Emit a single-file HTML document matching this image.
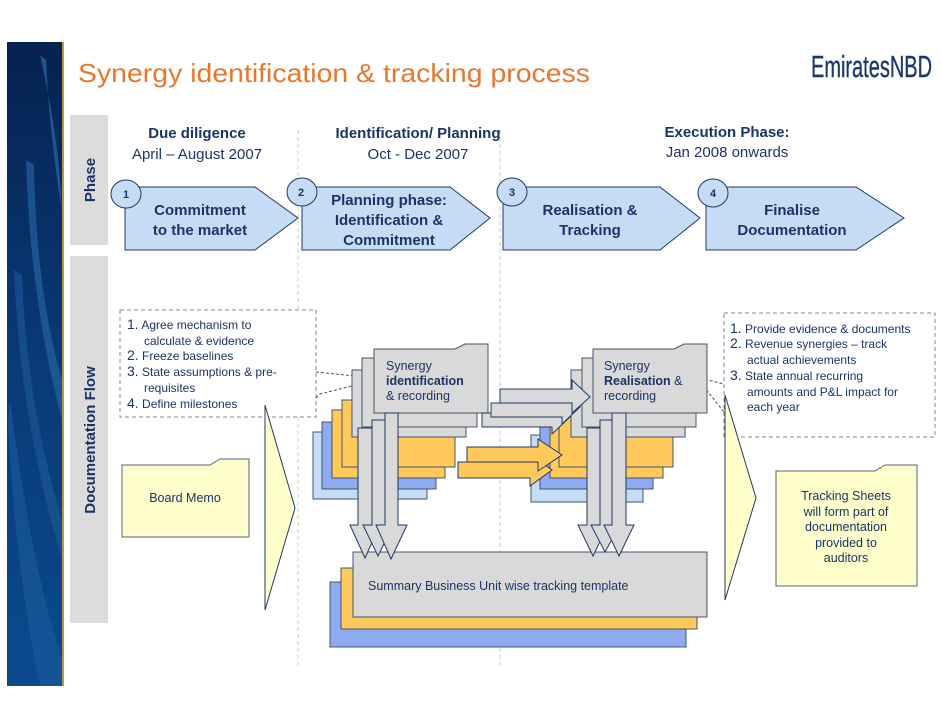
<!DOCTYPE html>
<html><head><meta charset="utf-8"><style>
html,body{margin:0;padding:0;background:#fff;}
svg{display:block;font-family:"Liberation Sans",Arial,sans-serif;}
</style></head><body>
<svg width="942" height="728" viewBox="0 0 942 728" xmlns="http://www.w3.org/2000/svg">
<defs>
<linearGradient id="sb" x1="0" y1="0" x2="0" y2="1">
<stop offset="0" stop-color="#06224f"/><stop offset="0.5" stop-color="#0a3a78"/><stop offset="1" stop-color="#0b4a8e"/>
</linearGradient>
</defs>
<!-- sidebar -->
<rect x="7" y="42" width="55" height="644" fill="url(#sb)"/>
<path d="M40 55 Q62 150 62 230 L62 210 Q50 140 46 60Z" fill="#2a69aa" opacity="0.7"/>
<path d="M26 160 Q30 300 62 420 L62 380 Q36 290 34 165Z" fill="#2a69aa" opacity="0.6"/>
<path d="M14 270 Q20 420 62 560 L62 520 Q26 400 22 275Z" fill="#1d5a9a" opacity="0.6"/>
<path d="M10 400 Q30 560 62 660 L62 686 L40 686 Q14 560 8 420Z" fill="#1e5fa0" opacity="0.5"/>
<rect x="62" y="42" width="2" height="644" fill="#b89a3a"/>

<!-- title -->
<text x="78" y="82" font-size="26" fill="#e8772e" textLength="512" lengthAdjust="spacingAndGlyphs">Synergy identification &amp; tracking process</text>
<text x="811" y="77" font-size="31" fill="#1b3a6b" textLength="121" lengthAdjust="spacingAndGlyphs" stroke="#1b3a6b" stroke-width="0.4">EmiratesNBD</text>

<!-- grey label columns -->
<rect x="70" y="115" width="38" height="130" fill="#dcdcdc"/>
<rect x="70" y="256" width="38" height="367" fill="#dcdcdc"/>
<text transform="translate(95,180) rotate(-90)" text-anchor="middle" font-size="15" font-weight="bold" fill="#1a3466">Phase</text>
<text transform="translate(95,440) rotate(-90)" text-anchor="middle" font-size="15" font-weight="bold" fill="#1a3466">Documentation Flow</text>

<!-- dashed verticals -->
<line x1="298" y1="130" x2="298" y2="665" stroke="#c8c8c8" stroke-dasharray="4,3"/>
<line x1="500" y1="130" x2="500" y2="665" stroke="#c8c8c8" stroke-dasharray="4,3"/>

<!-- headers -->
<g fill="#1a3466" font-size="15" text-anchor="middle">
<text x="197" y="138" font-weight="bold">Due diligence</text>
<text x="197" y="159">April – August 2007</text>
<text x="418" y="138" font-weight="bold">Identification/ Planning</text>
<text x="418" y="159">Oct - Dec 2007</text>
<text x="727" y="137" font-weight="bold">Execution Phase:</text>
<text x="727" y="157">Jan 2008 onwards</text>
</g>

<!-- chevrons -->
<g fill="#c6dcf5" stroke="#1f3864" stroke-width="1">
<path d="M125 187 H255 L298 218 L255 250 H125Z"/>
<path d="M302 187 H450 L490 218 L450 250 H302Z"/>
<path d="M503 187 H660 L700 218 L660 250 H503Z"/>
<path d="M706 187 H856 L904 218 L856 250 H706Z"/>
<ellipse cx="126" cy="194" rx="15" ry="14"/>
<ellipse cx="302" cy="192" rx="15" ry="14"/>
<ellipse cx="512" cy="192" rx="15" ry="14"/>
<ellipse cx="713" cy="193" rx="15" ry="14"/>
</g>
<g fill="#1a3466" font-size="11" font-weight="bold" text-anchor="middle">
<text x="126" y="198">1</text><text x="301" y="196">2</text><text x="512" y="196">3</text><text x="713" y="197">4</text>
</g>
<g fill="#1a3466" font-size="15" font-weight="bold" text-anchor="middle">
<text x="200" y="215">Commitment</text><text x="200" y="235">to the market</text>
<text x="389" y="205">Planning phase:</text><text x="389" y="225">Identification &amp;</text><text x="389" y="245">Commitment</text>
<text x="590" y="215">Realisation &amp;</text><text x="590" y="235">Tracking</text>
<text x="792" y="215">Finalise</text><text x="792" y="235">Documentation</text>
</g>

<!-- left dashed box -->
<rect x="120" y="310" width="196" height="107" fill="#fff" stroke="#7a8898" stroke-dasharray="4,3"/>
<g fill="#1a3466" font-size="12">
<text x="127" y="329"><tspan font-size="14">1.</tspan> Agree mechanism to</text>
<text x="144" y="345">calculate &amp; evidence</text>
<text x="127" y="360"><tspan font-size="14">2.</tspan> Freeze baselines</text>
<text x="127" y="376"><tspan font-size="14">3.</tspan> State assumptions &amp; pre-</text>
<text x="144" y="392">requisites</text>
<text x="127" y="408"><tspan font-size="14">4.</tspan> Define milestones</text>
</g>
<path d="M316 372 L375 378" stroke="#44546a" stroke-dasharray="3,2" fill="none"/>
<path d="M316 398 L320 394 L375 380" stroke="#44546a" stroke-dasharray="3,2" fill="none"/>

<!-- right dashed box -->
<rect x="724" y="313" width="211" height="124" fill="#fff" stroke="#7a8898" stroke-dasharray="4,3"/>
<g fill="#1a3466" font-size="12">
<text x="730" y="333"><tspan font-size="14">1.</tspan> Provide evidence &amp; documents</text>
<text x="730" y="348"><tspan font-size="14">2.</tspan> Revenue synergies – track</text>
<text x="747" y="364">actual achievements</text>
<text x="730" y="380"><tspan font-size="14">3.</tspan> State annual recurring</text>
<text x="747" y="396">amounts and P&amp;L impact for</text>
<text x="747" y="411">each year</text>
</g>
<path d="M700 378 L724 384" stroke="#44546a" stroke-dasharray="3,2"/>
<path d="M700 382 L724 412" stroke="#44546a" stroke-dasharray="3,2"/>

<!-- big triangles -->
<path d="M265 405 L295 508 L265 610Z" fill="#ffffcc" stroke="#1f3864"/>
<path d="M725 395 L756 498 L725 600Z" fill="#ffffcc" stroke="#1f3864"/>

<!-- board memo / tracking sheets -->
<path d="M122 465 H210 L220 459 H249 V537 H122Z" fill="#ffffcc" stroke="#5a6470"/>
<text x="185" y="502" font-size="12.5" fill="#1a3466" text-anchor="middle">Board Memo</text>
<path d="M776 471 H875 L885 465 H917 V586 H776Z" fill="#ffffcc" stroke="#5a6470"/>
<g font-size="12.5" fill="#1a3466" text-anchor="middle">
<text x="846" y="500">Tracking Sheets</text><text x="846" y="516">will form part of</text>
<text x="846" y="531">documentation</text><text x="846" y="547">provided to</text><text x="846" y="562">auditors</text>
</g>

<!-- summary stack -->
<g stroke="#44546a" stroke-width="1">
<rect x="330" y="582" width="356" height="65" fill="#8eaaf0"/>
<rect x="341" y="568" width="356" height="61" fill="#ffc95c"/>
<rect x="353" y="552" width="354" height="65" fill="#d9d9d9"/>
</g>
<text x="368" y="590" font-size="12.5" fill="#1a3466">Summary Business Unit wise tracking template</text>

<!-- left stack -->
<g stroke="#44546a" stroke-width="1">
<rect x="313" y="432" width="114" height="67" fill="#c6ddf7"/>
<rect x="322" y="422" width="114" height="67" fill="#8eaaf0"/>
<rect x="332" y="410" width="113" height="68" fill="#ffc95c"/>
<rect x="342" y="400" width="113" height="67" fill="#ffc95c"/>
<rect x="352" y="370" width="114" height="67" fill="#d9d9d9"/>
<rect x="362" y="358" width="115" height="69" fill="#d9d9d9"/>
<path d="M374 349 H455 L465 344 H488 V413 H374Z" fill="#d9d9d9"/>
</g>
<g font-size="12.5" fill="#1a3466">
<text x="386" y="370">Synergy</text>
<text x="386" y="385" font-weight="bold">identification</text>
<text x="386" y="400">&amp; recording</text>
</g>

<!-- right stack -->
<g stroke="#44546a" stroke-width="1">
<rect x="531" y="435" width="112" height="67" fill="#c6ddf7"/>
<rect x="540" y="422" width="113" height="67" fill="#8eaaf0"/>
<rect x="550" y="410" width="113" height="68" fill="#ffc95c"/>
<rect x="559" y="400" width="114" height="67" fill="#ffc95c"/>
<rect x="571" y="370" width="114" height="67" fill="#d9d9d9"/>
<rect x="582" y="358" width="114" height="69" fill="#d9d9d9"/>
<path d="M593 349 H674 L684 344 H707 V413 H593Z" fill="#d9d9d9"/>
</g>
<g font-size="12.5" fill="#1a3466">
<text x="604" y="370">Synergy</text>
<text x="604" y="385"><tspan font-weight="bold">Realisation</tspan> &amp;</text>
<text x="604" y="400">recording</text>
</g>

<!-- horizontal arrows -->
<g stroke="#1f3864" stroke-width="1">
<path d="M482 413 H552 V400 L570 417 L552 434 V427 H482Z" fill="#d9d9d9"/>
<path d="M491 403 H562 V390 L580 407 L562 424 V417 H491Z" fill="#d9d9d9"/>
<path d="M500 389 H572 V380 L590 397 L572 413 V403 H500Z" fill="#d9d9d9"/>
<path d="M458 462 H530 V454 L552 470 L530 486 V478 H458Z" fill="#ffc95c"/>
<path d="M467 447 H538 V439 L562 455 L538 471 V462 H467Z" fill="#ffc95c"/>
</g>

<!-- down arrows -->
<g stroke="#1f3864" stroke-width="1" fill="#d9d9d9">
<path d="M358 428 H372 V525 H380 L365 558 L350 525 H358Z"/>
<path d="M372 420 H385 V525 H393 L378 556 L363 525 H372Z"/>
<path d="M385 413 H398 V525 H407 L391 559 L376 525 H385Z"/>
<path d="M587 428 H600 V525 H608 L593 556 L578 525 H587Z"/>
<path d="M600 420 H612 V525 H620 L605 552 L591 525 H600Z"/>
<path d="M612 413 H626 V525 H634 L619 556 L604 525 H612Z"/>
</g>
</svg>
</body></html>
